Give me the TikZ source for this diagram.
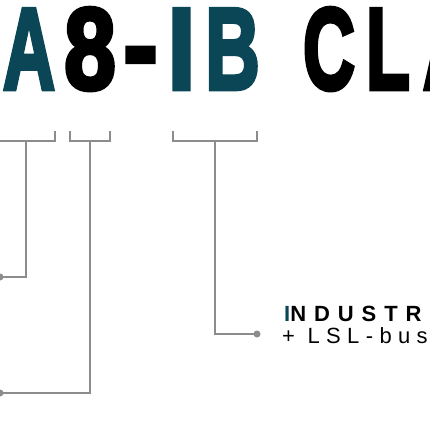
\documentclass[tikz,border=0pt]{standalone}
\usepackage{fontspec}
\setmainfont{Liberation Sans}
\newfontfamily\titlefont[FakeBold=4]{Liberation Sans Bold}
\newfontfamily\labfontA[LetterSpace=36]{Liberation Sans}
\newfontfamily\labfontB[LetterSpace=29]{Liberation Sans}
\definecolor{teal}{HTML}{0A4655}
\definecolor{linegray}{HTML}{8C8C8C}
\tikzset{
  big/.style={anchor=base, inner sep=0pt, outer sep=0pt, font=\titlefont\fontsize{116}{116}\selectfont},
  conn/.style={draw=linegray, line width=1.6pt, line join=miter},
  dot/.style={circle, fill=linegray, inner sep=0pt, minimum size=7pt},
  labA/.style={anchor=base west, inner sep=0pt, font=\labfontA\fontsize{22}{22}\selectfont\bfseries},
  labB/.style={anchor=base west, inner sep=0pt, font=\labfontB\fontsize{22}{22}\selectfont}
}
\begin{document}
\begin{tikzpicture}[x=1pt,y=-1pt]
\useasboundingbox (0,0) rectangle (430,430);
% title letters
\node[big, text=teal] (t1) at (29,89) {\scalebox{0.62}[1]{A}};
\node[big] (t2) at (90,89) {\scalebox{0.80}[1]{8}};
\node[big] (t3) at (140.5,85) {\scalebox{0.89}[1]{-}};
\node[big, text=teal] (t4) at (181.5,89) {\scalebox{0.85}[1]{I}};
\node[big, text=teal] (t5) at (232.5,89) {\scalebox{0.65}[1]{B}};
\node[big] (t6) at (329,89) {\scalebox{0.62}[1]{C}};
\node[big] (t7) at (388,89) {\scalebox{0.62}[1]{L}};
\node[big] (t8) at (449,89) {\scalebox{0.62}[1]{A}};
% brackets
\coordinate (b1l) at (0,141);
\coordinate (b1r) at (55,141);
\coordinate (b1m) at (26,141);
\coordinate (b2l) at (70,141);
\coordinate (b2r) at (110,141);
\coordinate (b2m) at (90,141);
\coordinate (b3l) at (173,141);
\coordinate (b3r) at (257,141);
\coordinate (b3m) at (215,141);
\draw[conn] (b1l) -- (b1r) -- ++(0,-10);
\draw[conn] (b2l) ++(0,-10) -- (b2l) -- (b2r) -- ++(0,-10);
\draw[conn] (b3l) ++(0,-10) -- (b3l) -- (b3r) -- ++(0,-10);
% dots
\node[dot] (d1) at (0,277) {};
\node[dot] (d2) at (0,393) {};
\node[dot] (d3) at (257,334) {};
\draw[conn] (b1m) |- (d1.center);
\draw[conn] (b2m) |- (d2.center);
\draw[conn] (b3m) |- (d3.center);
% labels
\node[labA] (l1) at (284,321) {\textcolor{teal}{I}NDUSTR};
\node[labB] (l2) at (282,343.5) {+ LSL-bus};
\end{tikzpicture}
\end{document}
